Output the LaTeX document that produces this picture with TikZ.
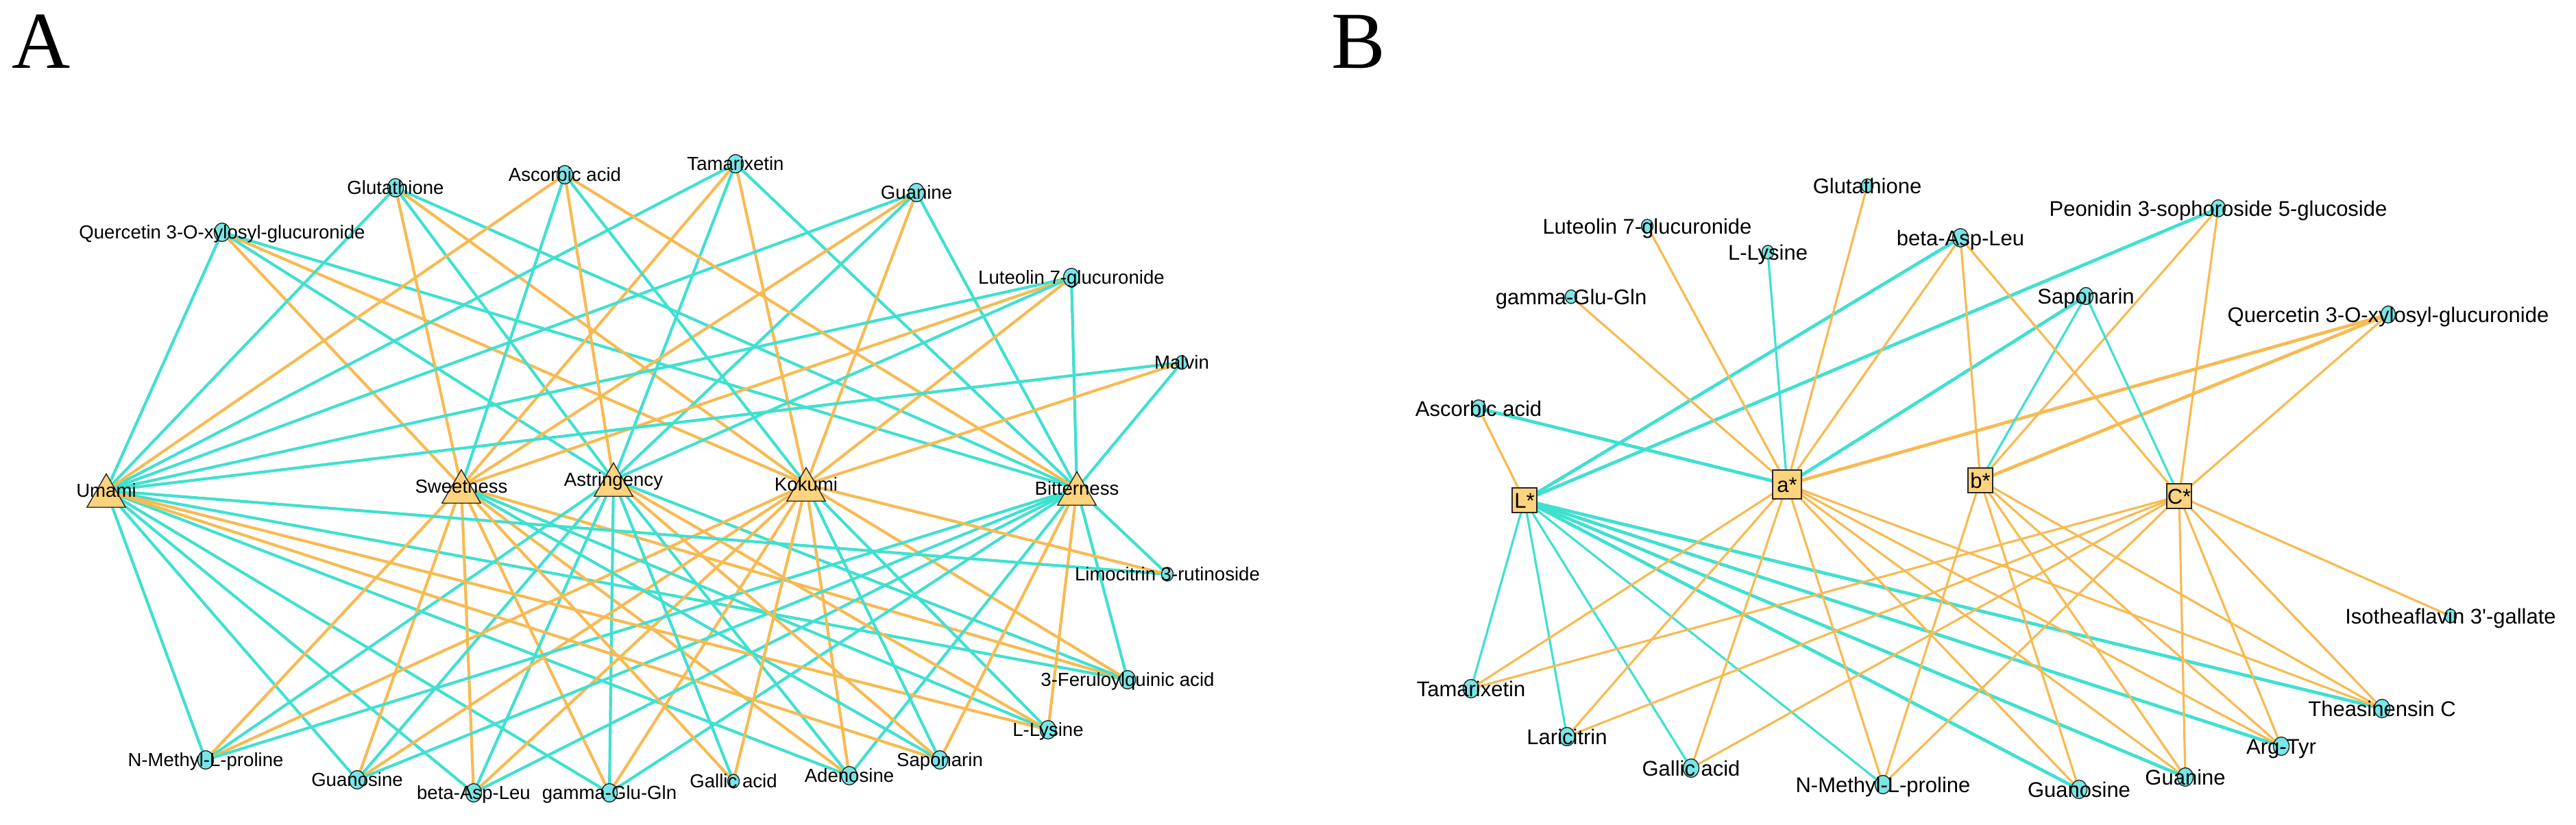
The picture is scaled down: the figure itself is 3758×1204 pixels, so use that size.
\documentclass[tikz,border=0pt]{standalone}
\usepackage{fontspec}
\setmainfont{Liberation Sans}
\newfontfamily\panelfont{Liberation Serif}
\usetikzlibrary{shapes.geometric}
\definecolor{ecyan}{RGB}{64,224,208}
\definecolor{eorange}{RGB}{247,186,82}
\definecolor{tfill}{RGB}{254,211,125}
\definecolor{cfill}{RGB}{120,230,232}
\tikzset{
  negA/.style={draw=ecyan, line width=2.1pt},
  posA/.style={draw=eorange, line width=2.1pt},
  negB/.style={draw=ecyan, line width=1.6pt},
  posB/.style={draw=eorange, line width=1.6pt},
  negBt/.style={draw=ecyan, line width=2.4pt},
  posBt/.style={draw=eorange, line width=2.4pt},
  cbig/.style={ellipse, draw=black!85, line width=0.7pt, fill=cfill, minimum width=11.5pt, minimum height=13.5pt, inner sep=0pt},
  cmid/.style={ellipse, draw=black!85, line width=0.7pt, fill=cfill, minimum width=10.5pt, minimum height=12.5pt, inner sep=0pt},
  csmall/.style={ellipse, draw=black!85, line width=0.7pt, fill=cfill, minimum width=8.5pt, minimum height=10pt, inner sep=0pt},
  tri/.style={regular polygon, regular polygon sides=3, minimum size=32.5pt, inner sep=0pt, fill=tfill, draw=black!85, line width=0.7pt, yshift=-4pt},
  sqbox/.style={rectangle, draw=black!85, line width=0.7pt, fill=tfill, minimum size=18pt, inner sep=0pt},
  labA/.style={font=\fontsize{13.8}{14}\selectfont, inner sep=0pt, text height=9.9pt, text depth=0pt},
  labB/.style={font=\fontsize{15.5}{16}\selectfont, inner sep=0pt, text height=11.1pt, text depth=0pt},
  panel/.style={font=\panelfont\fontsize{59}{60}\selectfont, anchor=base, inner sep=0pt}
}
\begin{document}
\begin{tikzpicture}[x=0.5pt, y=-0.5pt]
\useasboundingbox (0,0) rectangle (3758,1204);
% ---------------- Panel A ----------------
\coordinate (um) at (155,716);
\coordinate (sw) at (673,710);
\coordinate (ast) at (895,700);
\coordinate (ko) at (1176,707);
\coordinate (bi) at (1571,713);
\coordinate (qa) at (324,339);
\coordinate (gl) at (577,274);
\coordinate (asc) at (824,255);
\coordinate (ta) at (1073,239);
\coordinate (gu) at (1337,281);
\coordinate (lu) at (1563,405);
\coordinate (ma) at (1724,529);
\coordinate (li) at (1703,838);
\coordinate (fq) at (1645,992);
\coordinate (ly) at (1529,1065);
\coordinate (sa) at (1371,1109);
\coordinate (ad) at (1239,1132);
\coordinate (ga) at (1070,1140);
\coordinate (gg) at (889,1157);
\coordinate (ba) at (691,1157);
\coordinate (gs) at (521,1138);
\coordinate (nm) at (300,1109);
\foreach \c in {qa,gl,ta,gu,lu,fq,ad,gg,ba,gs,nm}{
  \draw[negA] (\c) -- (um);
  \draw[posA] (\c) -- (sw);
  \draw[negA] (\c) -- (ast);
  \draw[posA] (\c) -- (ko);
  \draw[negA] (\c) -- (bi);
}
\foreach \c in {asc,ly,sa}{
  \draw[posA] (\c) -- (um);
  \draw[negA] (\c) -- (sw);
  \draw[posA] (\c) -- (ast);
  \draw[negA] (\c) -- (ko);
  \draw[posA] (\c) -- (bi);
}
\foreach \c in {ma,li}{
  \draw[negA] (\c) -- (um);
  \draw[posA] (\c) -- (ko);
  \draw[negA] (\c) -- (bi);
}
\draw[posA] (ga) -- (sw);
\draw[negA] (ga) -- (ast);
\draw[posA] (ga) -- (ko);
% shapes
\foreach \c in {um,sw,ast,ko,bi}{ \node[tri] (\c T) at (\c) {}; }
\foreach \c in {qa,gl,asc,ta,gu,lu,fq,ly,sa,ad,gg,ba,gs,nm}{ \node[cbig] (\c C) at (\c) {}; }
\foreach \c in {ma,li,ga}{ \node[csmall] (\c C) at (\c) {}; }
% labels
\node[labA] (umL) at (um) {Umami};
\node[labA] (swL) at (sw) {Sweetness};
\node[labA] (astL) at (ast) {Astringency};
\node[labA] (koL) at (ko) {Kokumi};
\node[labA] (biL) at (bi) {Bitterness};
\node[labA] (qaL) at (qa) {Quercetin 3-O-xylosyl-glucuronide};
\node[labA] (glL) at (gl) {Glutathione};
\node[labA] (ascL) at (asc) {Ascorbic acid};
\node[labA] (taL) at (ta) {Tamarixetin};
\node[labA] (guL) at (gu) {Guanine};
\node[labA] (luL) at (lu) {Luteolin 7-glucuronide};
\node[labA] (maL) at (ma) {Malvin};
\node[labA] (liL) at (li) {Limocitrin 3-rutinoside};
\node[labA] (fqL) at (fq) {3-Feruloylquinic acid};
\node[labA] (lyL) at (ly) {L-Lysine};
\node[labA] (saL) at (sa) {Saponarin};
\node[labA] (adL) at (ad) {Adenosine};
\node[labA] (gaL) at (ga) {Gallic acid};
\node[labA] (ggL) at (gg) {gamma-Glu-Gln};
\node[labA] (baL) at (ba) {beta-Asp-Leu};
\node[labA] (gsL) at (gs) {Guanosine};
\node[labA] (nmL) at (nm) {N-Methyl-L-proline};
\node[panel] (pA) at (60,100) {A};
% ---------------- Panel B ----------------
\coordinate (Ls) at (2224,730);
\coordinate (As) at (2607,707);
\coordinate (Bs) at (2889,701);
\coordinate (Cs) at (3179,724);
\coordinate (bgl) at (2724,271);
\coordinate (blu) at (2403,330);
\coordinate (bly) at (2579,368);
\coordinate (bba) at (2860,347);
\coordinate (bgg) at (2292,433);
\coordinate (bas) at (2157,596);
\coordinate (bpe) at (3236,304);
\coordinate (bsa) at (3043,432);
\coordinate (bqu) at (3484,459);
\coordinate (bis) at (3575,899);
\coordinate (bth) at (3475,1034);
\coordinate (bar) at (3328,1089);
\coordinate (bgu) at (3188,1134);
\coordinate (bgs) at (3033,1152);
\coordinate (bnm) at (2747,1145);
\coordinate (bga) at (2467,1121);
\coordinate (blr) at (2286,1075);
\coordinate (bta) at (2146,1005);
% L*
\draw[posB] (Ls) -- (bas);
\draw[negBt] (Ls) -- (bba);
\draw[negBt] (Ls) -- (bpe);
\draw[negB] (Ls) -- (bta);
\draw[negB] (Ls) -- (blr);
\draw[negB] (Ls) -- (bga);
\draw[negB] (Ls) -- (bnm);
\foreach \c in {bgs,bgu,bar,bth}{ \draw[negBt] (Ls) -- (\c); }
% a*
\draw[negBt] (As) -- (bas);
\draw[negB] (As) -- (bly);
\draw[negBt] (As) -- (bsa);
\foreach \c in {bgg,blu,bgl,bba,bta,blr,bga,bnm,bgs,bgu,bar,bth}{ \draw[posB] (As) -- (\c); }
\draw[posBt] (As) -- (bqu);
% b*
\draw[negB] (Bs) -- (bsa);
\draw[posBt] (Bs) -- (bqu);
\foreach \c in {bba,bpe,bnm,bgs,bgu,bar,bth}{ \draw[posB] (Bs) -- (\c); }
% C*
\draw[negB] (Cs) -- (bsa);
\foreach \c in {bba,bpe,bqu,bis,bth,bar,bgu,bta,blr,bga,bnm}{ \draw[posB] (Cs) -- (\c); }
% shapes
\node[sqbox] (LsS) at (Ls) {};
\node[sqbox, minimum size=21pt] (AsS) at (As) {};
\node[sqbox] (BsS) at (Bs) {};
\node[sqbox] (CsS) at (Cs) {};
\foreach \c in {bba,bth,bar,bgu,bgs,bnm,bga,blr,bta}{ \node[cbig] (\c C) at (\c) {}; }
\foreach \c in {bpe,bsa,bqu,bas}{ \node[cmid] (\c C) at (\c) {}; }
\foreach \c in {bgl,blu,bly,bgg,bis}{ \node[csmall] (\c C) at (\c) {}; }
% labels
\node[labB] (LsL) at (Ls) {L*};
\node[labB] (AsL) at (As) {a*};
\node[labB] (BsL) at (Bs) {b*};
\node[labB] (CsL) at (Cs) {C*};
\node[labB] (bglL) at (bgl) {Glutathione};
\node[labB] (bluL) at (blu) {Luteolin 7-glucuronide};
\node[labB] (blyL) at (bly) {L-Lysine};
\node[labB] (bbaL) at (bba) {beta-Asp-Leu};
\node[labB] (bggL) at (bgg) {gamma-Glu-Gln};
\node[labB] (basL) at (bas) {Ascorbic acid};
\node[labB] (bpeL) at (bpe) {Peonidin 3-sophoroside 5-glucoside};
\node[labB] (bsaL) at (bsa) {Saponarin};
\node[labB] (bquL) at (bqu) {Quercetin 3-O-xylosyl-glucuronide};
\node[labB] (bisL) at (bis) {Isotheaflavin 3\textquotesingle-gallate};
\node[labB] (bthL) at (bth) {Theasinensin C};
\node[labB] (barL) at (bar) {Arg-Tyr};
\node[labB] (bguL) at (bgu) {Guanine};
\node[labB] (bgsL) at (bgs) {Guanosine};
\node[labB] (bnmL) at (bnm) {N-Methyl-L-proline};
\node[labB] (bgaL) at (bga) {Gallic acid};
\node[labB] (blrL) at (blr) {Laricitrin};
\node[labB] (btaL) at (bta) {Tamarixetin};
\node[panel] (pB) at (1982,100) {B};
\end{tikzpicture}
\end{document}
